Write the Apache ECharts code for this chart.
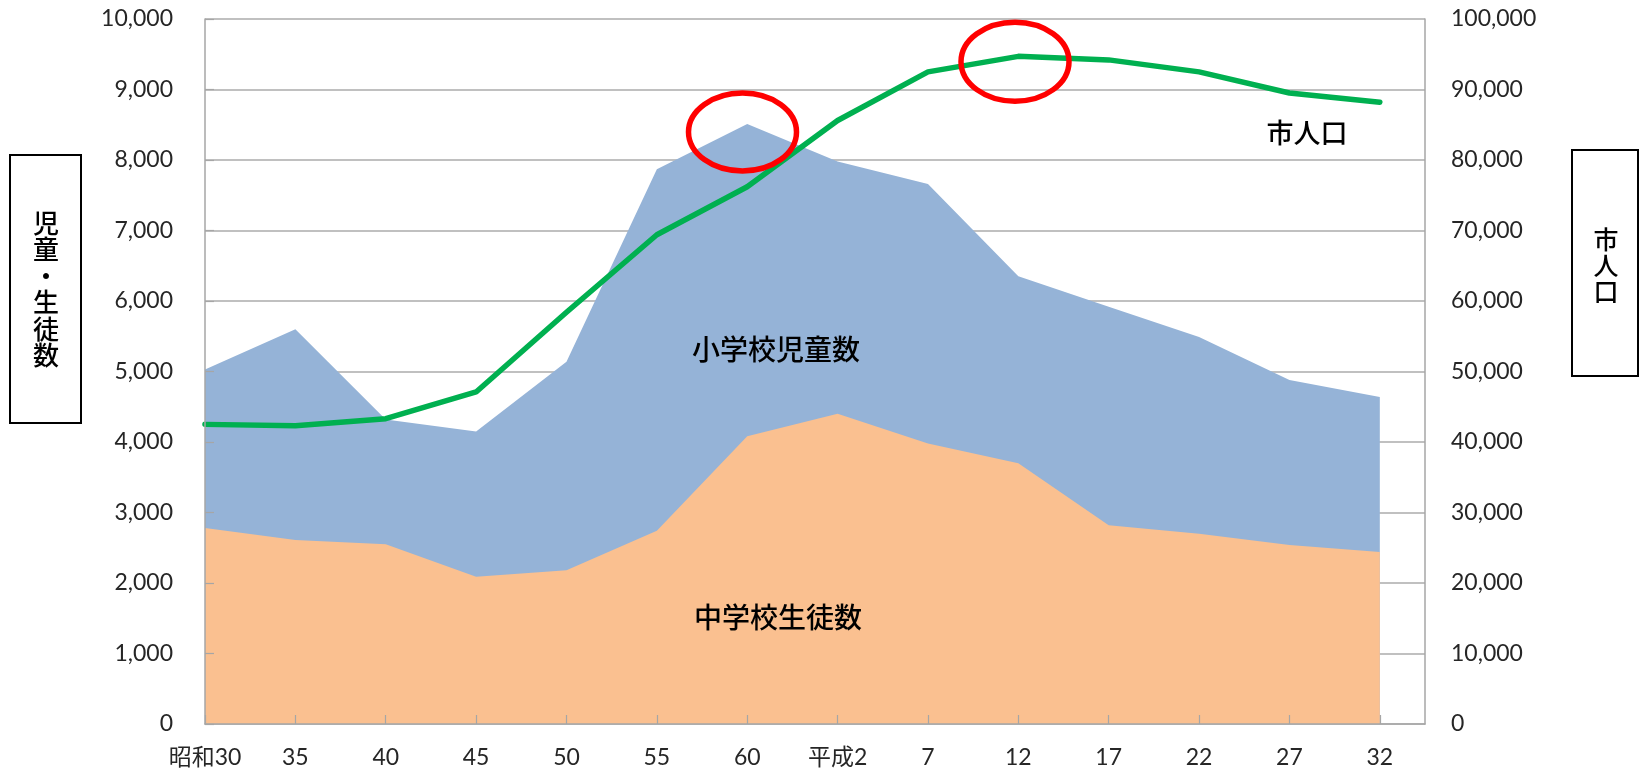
<!DOCTYPE html>
<html>
<head>
<meta charset="utf-8">
<script src="https://cdn.jsdelivr.net/npm/echarts@6/dist/echarts.min.js"></script>
<style>
html,body{margin:0;padding:0;background:#fff;}
#chart{width:1640px;height:772px;}
</style>
</head>
<body>
<div id="chart"></div>
<script>
// ---- data ----
const categories = ['昭和30','35','40','45','50','55','60','平成2','7','12','17','22','27','32'];
const elementary = [5030,5600,4320,4150,5140,7870,8510,7980,7660,6350,5920,5490,4880,4640];   // 小学校児童数
const juniorHigh = [2780,2610,2550,2090,2180,2740,4080,4400,3980,3700,2820,2700,2540,2440];   // 中学校生徒数
const population = [42500,42300,43300,47100,58400,69400,76200,85600,92500,94700,94200,92500,89500,88200]; // 市人口
const leftAxisTitle = '児童・生徒数';
const rightAxisTitle = '市人口';
const seriesLabels = ['小学校児童数','中学校生徒数','市人口'];

const numFont = "Lato, 'Noto Sans CJK JP', sans-serif";
const jpFont = "'Noto Sans CJK JP', sans-serif";
const fmt = v => Number(v).toLocaleString('en-US');
const toPairs = arr => arr.map((v, i) => [i, v]);

const chart = echarts.init(document.getElementById('chart'), null, {renderer: 'canvas'});
chart.setOption({
  animation: false,
  backgroundColor: '#ffffff',
  grid: {left: 205, right: 215, top: 19, bottom: 48, containLabel: false},
  xAxis: {
    type: 'value', min: 0, max: 13.5, interval: 1, z: 10,
    axisLine: {show: true, lineStyle: {color: '#a6a6a6', width: 1.5}},
    axisTick: {show: true, inside: true, length: 9, lineStyle: {color: '#a6a6a6', width: 1.2}},
    splitLine: {show: false},
    axisLabel: {
      margin: 22, color: '#262626', fontSize: 23, fontFamily: numFont,
      showMaxLabel: false,
      formatter: v => (Number.isInteger(v) && categories[v] !== undefined) ? categories[v] : ''
    }
  },
  yAxis: [
    {
      type: 'value', position: 'left', min: 0, max: 10000, interval: 1000, z: 10,
      axisLine: {show: true, lineStyle: {color: '#a6a6a6', width: 1.5}},
      axisTick: {show: true, inside: true, length: 9, lineStyle: {color: '#a6a6a6', width: 1.2}},
      splitLine: {show: false},
      axisLabel: {margin: 32, color: '#262626', fontSize: 23, fontFamily: numFont, formatter: fmt}
    },
    {
      type: 'value', position: 'right', min: 0, max: 100000, interval: 10000, z: 0,
      axisLine: {show: true, lineStyle: {color: '#a6a6a6', width: 1.5}},
      axisTick: {show: false},
      splitLine: {show: true, lineStyle: {color: '#ababab', width: 1.5}},
      axisLabel: {margin: 26, color: '#262626', fontSize: 23, fontFamily: numFont, formatter: fmt}
    }
  ],
  series: [
    {
      name: seriesLabels[0], type: 'line', yAxisIndex: 0, data: toPairs(elementary),
      showSymbol: false, symbol: 'none', lineStyle: {width: 0},
      areaStyle: {color: '#95b3d7', opacity: 1}, z: 2
    },
    {
      name: seriesLabels[1], type: 'line', yAxisIndex: 0, data: toPairs(juniorHigh),
      showSymbol: false, symbol: 'none', lineStyle: {width: 0},
      areaStyle: {color: '#fac090', opacity: 1}, z: 3
    },
    {
      name: seriesLabels[2], type: 'line', yAxisIndex: 1, data: toPairs(population),
      showSymbol: false, symbol: 'none',
      lineStyle: {color: '#00b050', width: 5.5, join: 'round', cap: 'round'}, z: 5
    }
  ],
  graphic: [
    // left axis title box
    {type: 'rect', shape: {x: 10, y: 155, width: 71, height: 268}, style: {fill: '#fff', stroke: '#000', lineWidth: 2}, z: 20},
    {type: 'text', x: 46, y: 289, z: 21, style: {text: leftAxisTitle.split('').join('\n'), fontSize: 26, lineHeight: 26.5, fontWeight: 500, fontFamily: jpFont, fill: '#000', align: 'center', verticalAlign: 'middle'}},
    // right axis title box
    {type: 'rect', shape: {x: 1572, y: 150, width: 66, height: 226}, style: {fill: '#fff', stroke: '#000', lineWidth: 2}, z: 20},
    {type: 'text', x: 1606, y: 265, z: 21, style: {text: rightAxisTitle.split('').join('\n'), fontSize: 25, lineHeight: 26, fontWeight: 500, fontFamily: jpFont, fill: '#000', align: 'center', verticalAlign: 'middle'}},
    // in-plot series labels
    {type: 'text', x: 776, y: 349, z: 30, style: {text: seriesLabels[0], fontSize: 28, fontWeight: 500, fontFamily: jpFont, fill: '#000', align: 'center', verticalAlign: 'middle'}},
    {type: 'text', x: 778, y: 617, z: 30, style: {text: seriesLabels[1], fontSize: 28, fontWeight: 500, fontFamily: jpFont, fill: '#000', align: 'center', verticalAlign: 'middle'}},
    {type: 'text', x: 1307, y: 133, z: 30, style: {text: seriesLabels[2], fontSize: 27, fontWeight: 500, fontFamily: jpFont, fill: '#000', align: 'center', verticalAlign: 'middle'}},
    // red highlight ellipses
    {type: 'ellipse', shape: {cx: 742.5, cy: 132, rx: 54, ry: 39}, style: {fill: 'none', stroke: '#ff0000', lineWidth: 5.5}, z: 40},
    {type: 'ellipse', shape: {cx: 1015, cy: 61.7, rx: 54, ry: 39.5}, style: {fill: 'none', stroke: '#ff0000', lineWidth: 5.5}, z: 40}
  ]
});
</script>
</body>
</html>
